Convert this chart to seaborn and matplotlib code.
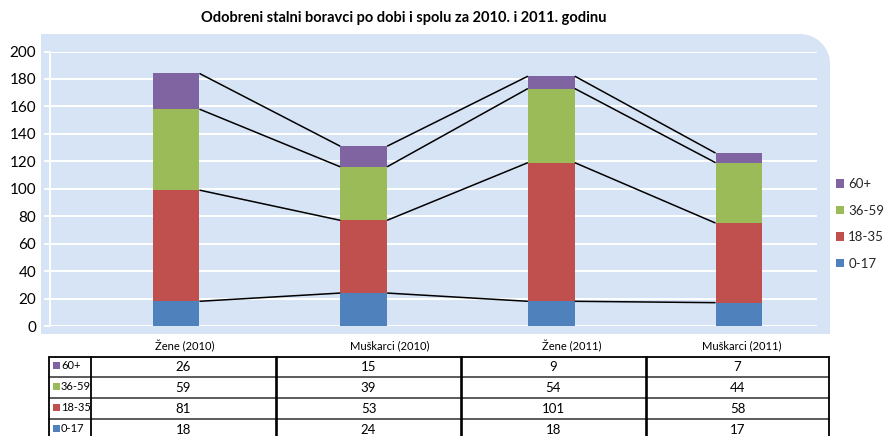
import numpy as np
import matplotlib
matplotlib.use("Agg")
import matplotlib.pyplot as plt
import seaborn as sns
from matplotlib.patches import Polygon, Rectangle

# ---------------- data ----------------
categories = ["Žene (2010)", "Muškarci (2010)", "Žene (2011)", "Muškarci (2011)"]
age_groups = ["0-17", "18-35", "36-59", "60+"]
v_0_17 = [18, 24, 18, 17]
v_18_35 = [81, 53, 101, 58]
v_36_59 = [59, 39, 54, 44]
v_60p = [26, 15, 9, 7]
y_ticks = [0, 20, 40, 60, 80, 100, 120, 140, 160, 180, 200]
title = "Odobreni stalni boravci po dobi i spolu za 2010. i 2011. godinu"

colors = {"0-17": "#4F81BD", "18-35": "#C0504D", "36-59": "#9BBB59", "60+": "#8064A2"}
bg_color = "#D7E4F5"

series = {"0-17": v_0_17, "18-35": v_18_35, "36-59": v_36_59, "60+": v_60p}

sns.set_theme(style="white")
plt.rcParams['font.family'] = ['Lato', 'DejaVu Sans']

W, H = 884, 436
fig = plt.figure(figsize=(W / 100, H / 100), dpi=100)

# background / overlay axes in pixel coordinates
bg = fig.add_axes([0, 0, 1, 1], zorder=0)
bg.set_xlim(0, W)
bg.set_ylim(H, 0)
bg.axis('off')

r = 30
x0, x1, y0, y1 = 41, 830, 34, 334
cx, cy = x1 - r, y0 + r
t = np.linspace(np.pi / 2, 0, 30)
arc = np.column_stack([cx + r * np.cos(t), cy - r * np.sin(t)])
pts = np.vstack([[x0, y0], arc, [x1, y1], [x0, y1]])
bg.add_patch(Polygon(pts, closed=True, facecolor=bg_color, edgecolor='none'))

# title
bg.text(404, 18, title, ha='center', va='center', fontsize=10.5, fontweight='bold', color='black')

# ---------------- main chart ----------------
ax_left, ax_right, ax_top, ax_bot = 50, 817, 51.5, 326
ax = fig.add_axes([ax_left / W, 1 - ax_bot / H, (ax_right - ax_left) / W, (ax_bot - ax_top) / H], zorder=1)
ax.set_facecolor('none')

cum = np.cumsum(np.array([series[g] for g in age_groups]), axis=0)  # cumulative levels
bar_w = 0.25
# draw from top (total) down so lower segments overlay
for i in range(len(age_groups) - 1, -1, -1):
    g = age_groups[i]
    sns.barplot(x=categories, y=cum[i], color=colors[g], saturation=1, width=bar_w,
                errorbar=None, ax=ax, label=g, linewidth=0, zorder=3)

# series lines connecting segment tops
xpos = np.arange(len(categories))
for i in range(len(age_groups)):
    for j in range(len(categories) - 1):
        ax.plot([xpos[j] + bar_w / 2, xpos[j + 1] - bar_w / 2], [cum[i][j], cum[i][j + 1]],
                color='black', lw=1.1, zorder=4, solid_capstyle='butt')

scale = (739 - 176) / 3
ax.set_xlim(-(176 - ax_left) / scale, 3 + (ax_right - 739) / scale)
ax.set_ylim(0, 200)
ax.set_yticks(y_ticks)
ax.set_yticklabels([str(v) for v in y_ticks], fontsize=11)
ax.set_xticks([])
ax.set_xlabel('')
ax.set_ylabel('')
ax.grid(axis='y', color='white', lw=1.4, zorder=1)
ax.set_axisbelow(True)
for s in ['top', 'right', 'bottom']:
    ax.spines[s].set_visible(False)
ax.spines['left'].set_color('white')
ax.spines['left'].set_linewidth(1.4)
ax.tick_params(axis='y', length=4, width=1.4, color='white', pad=6, labelcolor='black', left=True)

# legend
handles, labels = ax.get_legend_handles_labels()
leg = ax.legend(handles, labels, loc='upper left', bbox_to_anchor=(836 / W, 1 - 178 / H),
                bbox_transform=fig.transFigure, frameon=False, fontsize=9.5,
                handlelength=0.62, handleheight=0.62, handletextpad=0.3, labelspacing=1.1,
                borderaxespad=0, borderpad=0)

# ---------------- data table ----------------
col_x = [49, 91, 276, 461, 646, 829]
row_y = [357, 377, 398, 419, 441]
header_x = [185, 390, 572, 742]
for k, c in enumerate(categories):
    bg.text(header_x[k], 346, c, ha='center', va='center', fontsize=8, color='black')

table_order = ["60+", "36-59", "18-35", "0-17"]
# horizontal lines
for k, yy in enumerate(row_y):
    if k == 0:
        bg.plot([col_x[0], col_x[-1]], [yy, yy], color='black', lw=1.3)
    else:
        bg.plot([col_x[0], col_x[-1]], [yy, yy], color='#404040', lw=1.2)
# vertical lines
for k, xx in enumerate(col_x):
    lw = 1.9 if 1 < k < len(col_x) - 1 else 1.3
    bg.plot([xx, xx], [row_y[0], H + 5], color='black', lw=lw)

for ri, g in enumerate(table_order):
    yc = (row_y[ri] + row_y[ri + 1]) / 2
    bg.add_patch(Rectangle((52.5, yc - 5), 7, 7, facecolor=colors[g], edgecolor='none'))
    bg.text(61, yc - 1.5, g, ha='left', va='center', fontsize=8, color='black')
    for ci in range(len(categories)):
        xc = (col_x[ci + 1] + col_x[ci + 2]) / 2
        bg.text(xc, yc, str(series[g][ci]), ha='center', va='center', fontsize=9.5, color='black')

fig.savefig("out.png", dpi=100)
